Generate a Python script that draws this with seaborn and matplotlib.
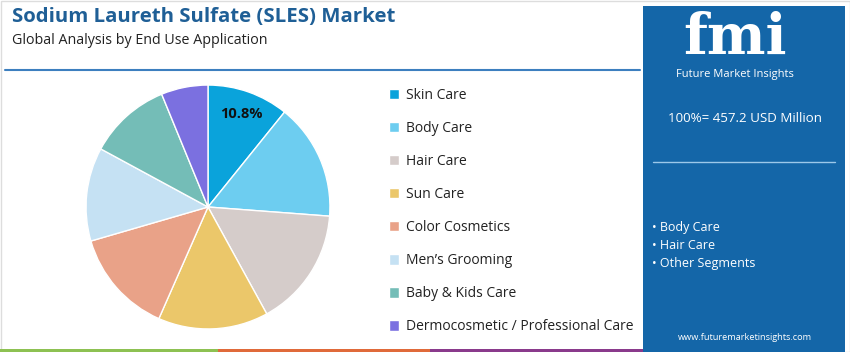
import matplotlib.pyplot as plt
import seaborn as sns
from matplotlib.patches import Rectangle

segments = [
    "Skin Care",
    "Body Care",
    "Hair Care",
    "Sun Care",
    "Color Cosmetics",
    "Men\u2019s Grooming",
    "Baby & Kids Care",
    "Dermocosmetic / Professional Care",
]
shares = [10.8, 15.4, 15.8, 14.6, 13.9, 12.4, 10.9, 6.2]
colors = ["#0AA3DB", "#6DCDF0", "#D5CCCA", "#EBC76A", "#E9A288", "#C5E1F3", "#74BDB7", "#7B70E0"]
highlights = ["Body Care", "Hair Care", "Other Segments"]
total_text = "100%= 457.2 USD Million"

sns.set_theme(style="white")
plt.rcParams["font.family"] = ["Open Sans", "DejaVu Sans"]

W, H = 850, 352
fig = plt.figure(figsize=(W / 100, H / 100), dpi=100)
fig.patch.set_facecolor("white")

# thin frame round the card
fig.add_artist(Rectangle((0.5 / W, 0.5 / H), (W - 1) / W, (H - 1) / H, transform=fig.transFigure,
                         facecolor="none", edgecolor="#DDDDDD", lw=1))

# title block
fig.text(12 / W, 1 - 17 / H, "Sodium Laureth Sulfate (SLES) Market", fontsize=14.7,
         fontweight="bold", color="#1F5F96", va="center", ha="left")
fig.text(12 / W, 1 - 41 / H, "Global Analysis by End Use Application", fontsize=10.25,
         color="#222222", va="center", ha="left")
fig.add_artist(plt.Line2D([5 / W, 640 / W], [1 - 70 / H, 1 - 70 / H], color="#3D7FBF", lw=1.5))

# pie
cx, cy, r = 208, 207, 125
ax = fig.add_axes([(cx - r) / W, (H - cy - r) / H, 2 * r / W, 2 * r / H])
palette = sns.color_palette(colors)
wedges, _, autotexts = ax.pie(
    shares,
    colors=palette,
    startangle=90,
    counterclock=False,
    autopct=lambda p: f"{p:.1f}%" if abs(p - shares[0]) < 0.05 else "",
    pctdistance=0.81,
    textprops={"fontsize": 10.5, "fontweight": "bold", "color": "#111111"},
)
ax.set_xlim(-1.025, 1.025)
ax.set_ylim(-1.025, 1.025)
ax.set_aspect("equal")
ax.axis("off")

leg = fig.legend(
    wedges,
    segments,
    loc="upper left",
    bbox_to_anchor=(389 / W, 1 - 88 / H),
    frameon=False,
    fontsize=10,
    labelspacing=1.3,
    handlelength=0.75,
    handleheight=0.75,
    handletextpad=0.45,
    borderaxespad=0,
    borderpad=0,
)
for t in leg.get_texts():
    t.set_color("#222222")

# right panel
fig.add_artist(Rectangle((643 / W, 0), 202 / W, 1 - 6 / H, transform=fig.transFigure,
                         facecolor="#1466A8", edgecolor="none"))
fig.text(735 / W, 1 - 66 / H, "fmi", fontsize=40, fontweight="bold", family="DejaVu Serif",
         color="white", ha="center", va="bottom")
fig.text(735 / W, 1 - 74 / H, "Future Market Insights", fontsize=8, color="white",
         ha="center", va="center")
fig.text(745 / W, 1 - 118 / H, total_text, fontsize=9.6, color="white", ha="center", va="center")
fig.add_artist(plt.Line2D([653 / W, 835 / W], [1 - 162 / H, 1 - 162 / H], color="#9CC8EA", lw=1))
for i, item in enumerate(highlights):
    fig.text(652 / W, 1 - (228 + i * 17.5) / H, "\u2022 " + item, fontsize=9, color="white",
             ha="left", va="center")
fig.text(745 / W, 1 - 337 / H, "www.futuremarketinsights.com", fontsize=6.6, color="white",
         ha="center", va="center")

# bottom strip
for x0, x1, c in [(0, 218, "#8DC152"), (218, 430, "#E06A3A"), (430, 643, "#8A3A8C")]:
    fig.add_artist(Rectangle((x0 / W, 0), (x1 - x0) / W, 3 / H, transform=fig.transFigure,
                             facecolor=c, edgecolor="none"))

fig.savefig("out.png", dpi=100)
